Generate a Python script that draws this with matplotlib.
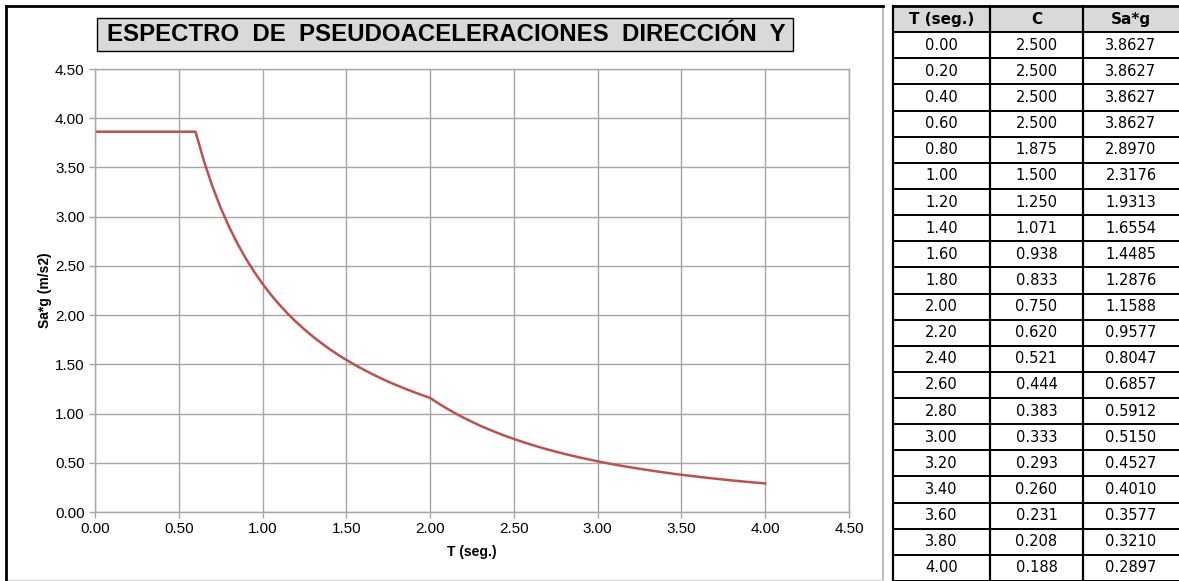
import numpy as np
import matplotlib.pyplot as plt
from matplotlib.patches import Rectangle
from matplotlib.lines import Line2D

# curva del espectro
T_curve = [0.00, 0.60, 0.65, 0.70, 0.75, 0.80, 0.85, 0.90, 0.95, 1.00, 1.05, 1.10, 1.15,
           1.20, 1.25, 1.30, 1.35, 1.40, 1.45, 1.50, 1.55, 1.60, 1.65, 1.70, 1.75, 1.80,
           1.85, 1.90, 1.95, 2.00, 2.05, 2.10, 2.15, 2.20, 2.25, 2.30, 2.35, 2.40, 2.45,
           2.50, 2.55, 2.60, 2.65, 2.70, 2.75, 2.80, 2.85, 2.90, 2.95, 3.00, 3.05, 3.10,
           3.15, 3.20, 3.25, 3.30, 3.35, 3.40, 3.45, 3.50, 3.55, 3.60, 3.65, 3.70, 3.75,
           3.80, 3.85, 3.90, 3.95, 4.00]
Sa_curve = [3.863, 3.863, 3.566, 3.311, 3.090, 2.897, 2.727, 2.575, 2.440, 2.318, 2.207,
            2.107, 2.015, 1.931, 1.854, 1.783, 1.717, 1.655, 1.598, 1.545, 1.495, 1.449,
            1.405, 1.363, 1.324, 1.288, 1.253, 1.220, 1.189, 1.159, 1.103, 1.051, 1.003,
            0.958, 0.916, 0.876, 0.839, 0.805, 0.772, 0.742, 0.713, 0.686, 0.660, 0.636,
            0.613, 0.591, 0.571, 0.551, 0.533, 0.515, 0.498, 0.482, 0.467, 0.453, 0.439,
            0.426, 0.413, 0.401, 0.389, 0.378, 0.368, 0.358, 0.348, 0.339, 0.330, 0.321,
            0.313, 0.305, 0.297, 0.290]

# tabla
headers = ['T (seg.)', 'C', 'Sa*g']
T_tab = ['0.00', '0.20', '0.40', '0.60', '0.80', '1.00', '1.20', '1.40', '1.60', '1.80',
         '2.00', '2.20', '2.40', '2.60', '2.80', '3.00', '3.20', '3.40', '3.60', '3.80', '4.00']
C_tab = ['2.500', '2.500', '2.500', '2.500', '1.875', '1.500', '1.250', '1.071', '0.938',
         '0.833', '0.750', '0.620', '0.521', '0.444', '0.383', '0.333', '0.293', '0.260',
         '0.231', '0.208', '0.188']
Sag_tab = ['3.8627', '3.8627', '3.8627', '3.8627', '2.8970', '2.3176', '1.9313', '1.6554',
           '1.4485', '1.2876', '1.1588', '0.9577', '0.8047', '0.6857', '0.5912', '0.5150',
           '0.4527', '0.4010', '0.3577', '0.3210', '0.2897']

W, H = 1179, 581
def fx(x): return x / W
def fy(y): return 1 - y / H

plt.rcParams['font.family'] = ['Liberation Sans', 'DejaVu Sans']
fig = plt.figure(figsize=(W / 100, H / 100), dpi=100)
fig.patch.set_facecolor('white')

# marco del grafico
fig.add_artist(Line2D([fx(883), fx(883)], [fy(6), fy(580)], color='#b0b0b0', lw=1.2))
fig.add_artist(Line2D([fx(6), fx(883)], [fy(580), fy(580)], color='#d8d8d8', lw=1.0))
fig.add_artist(Line2D([fx(6), fx(6)], [fy(6), fy(581)], color='black', lw=2.0))
fig.add_artist(Line2D([fx(6), fx(883)], [fy(6), fy(6)], color='black', lw=2.0))

ax = fig.add_axes([fx(95), fy(512), (849 - 95) / W, (512 - 69) / H])
ax.plot(T_curve, Sa_curve, color='#c0504d', lw=1.8)
ax.set_xlim(0, 4.5)
ax.set_ylim(0, 4.5)
ticks = np.arange(0, 4.51, 0.5)
ax.set_xticks(ticks)
ax.set_yticks(ticks)
ax.set_xticklabels([f'{t:.2f}' for t in ticks])
ax.set_yticklabels([f'{t:.2f}' for t in ticks])
ax.grid(True, color='#a6a6a6', lw=1.0)
for s in ax.spines.values():
    s.set_color('#a6a6a6')
    s.set_linewidth(1.0)
ax.tick_params(colors='#a6a6a6', labelcolor='black', labelsize=11, length=4, width=1.0)
ax.set_xlabel('T (seg.)', fontsize=10, fontweight='bold', labelpad=6)
ax.set_ylabel('Sa*g (m/s2)', fontsize=10, fontweight='bold', labelpad=2)

# titulo
fig.add_artist(Rectangle((fx(97), fy(51)), (793 - 97) / W, (51 - 18) / H,
                         facecolor='#d9d9d9', edgecolor='black', lw=1.0))
fig.text(fx(446), fy(34.5), 'ESPECTRO  DE  PSEUDOACELERACIONES  DIRECCIÓN  Y',
         ha='center', va='center', fontsize=17.3, fontweight='bold')

# tabla a la derecha
col_x = [893, 990, 1083, 1179]
top, bottom = 6, 581
nrows = len(T_tab) + 1
rh = (bottom - top) / nrows
fig.add_artist(Rectangle((fx(893), fy(top + rh)), (1179 - 893) / W, rh / H,
                         facecolor='#d9d9d9', edgecolor='none'))
for i in range(nrows + 1):
    yy = top + i * rh
    fig.add_artist(Line2D([fx(893), fx(1179)], [fy(yy), fy(yy)], color='black',
                          lw=2.0 if i == 0 else 1.4))
for xx in col_x[:3]:
    fig.add_artist(Line2D([fx(xx), fx(xx)], [fy(top), fy(bottom)], color='black', lw=1.6))

tfont = ['DejaVu Sans']
for j, h in enumerate(headers):
    cx = (col_x[j] + col_x[j + 1]) / 2
    fig.text(fx(cx), fy(top + rh / 2), h, ha='center', va='center', fontsize=11,
             fontweight='bold', family=tfont)
for i in range(len(T_tab)):
    cy = top + (i + 1.5) * rh
    for j, v in enumerate([T_tab[i], C_tab[i], Sag_tab[i]]):
        cx = (col_x[j] + col_x[j + 1]) / 2
        fig.text(fx(cx), fy(cy), v, ha='center', va='center', fontsize=10.5, family=tfont)

fig.savefig('out.png', dpi=100)
